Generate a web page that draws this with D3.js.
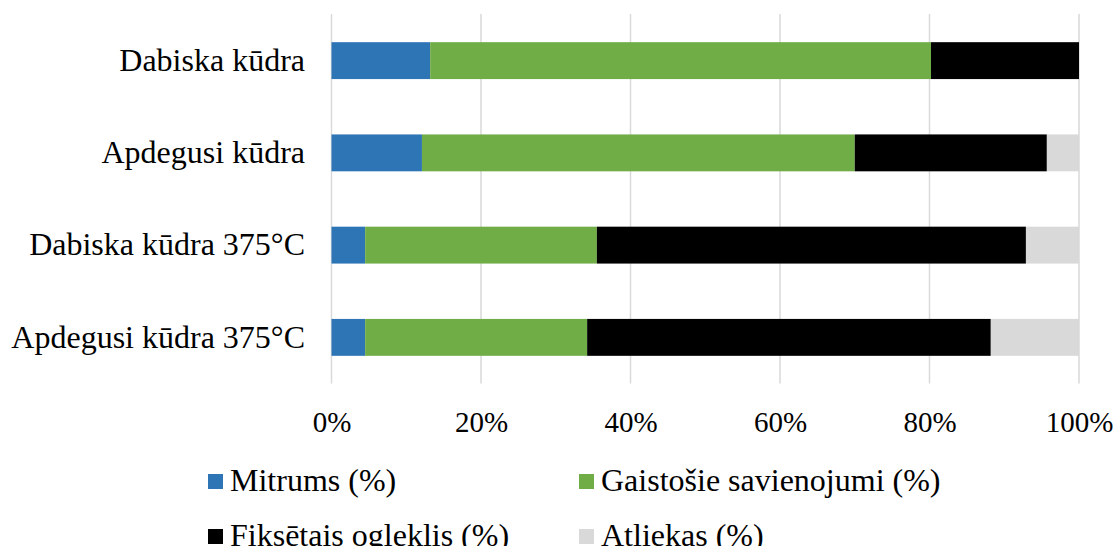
<!DOCTYPE html>
<html>
<head>
<meta charset="utf-8">
<script src="https://cdn.jsdelivr.net/npm/d3@7"></script>
<style>
  html, body { margin: 0; padding: 0; background: #fff; }
  svg { display: block; }
  text { font-family: "Liberation Serif", "Times New Roman", serif; fill: #000; }
</style>
</head>
<body>
<svg id="chart" width="1114" height="546"></svg>
<script>
const categories = ["Dabiska kūdra", "Apdegusi kūdra", "Dabiska kūdra 375°C", "Apdegusi kūdra 375°C"];
const seriesNames = ["Mitrums (%)", "Gaistošie savienojumi (%)", "Fiksētais ogleklis (%)", "Atliekas (%)"];
const mitrums = [13.2, 12.1, 4.5, 4.5];
const gaistosie = [67.0, 57.9, 31.0, 29.7];
const fiksetais = [19.8, 25.7, 57.4, 54.0];
const atliekas = [0.0, 4.3, 7.1, 11.8];
const tickValues = [0, 0.2, 0.4, 0.6, 0.8, 1.0];
const colors = ["#2E75B6", "#70AD47", "#000000", "#D9D9D9"];

const seriesValues = [mitrums, gaistosie, fiksetais, atliekas];
const rows = categories.map((c, i) => {
  const o = { cat: c };
  seriesNames.forEach((s, j) => o[s] = seriesValues[j][i]);
  return o;
});
const stacked = d3.stack().keys(seriesNames).offset(d3.stackOffsetExpand)(rows);

const svg = d3.select("#chart");
const x = d3.scaleLinear().domain([0, 1]).range([331.5, 1079]);
const y = d3.scaleBand().domain(categories).range([14.5, 383.5]).paddingInner(0.6).paddingOuter(0.3);

// gridlines
svg.append("g").selectAll("line").data(tickValues).join("line")
  .attr("x1", d => x(d)).attr("x2", d => x(d))
  .attr("y1", 14).attr("y2", 383.5)
  .attr("stroke", "#D9D9D9").attr("stroke-width", 1.5);

// bars
svg.append("g").selectAll("g").data(stacked).join("g")
  .attr("fill", (d, i) => colors[i])
  .selectAll("rect").data(d => d).join("rect")
  .attr("x", d => x(d[0]))
  .attr("width", d => Math.max(0, x(d[1]) - x(d[0])))
  .attr("y", d => y(d.data.cat))
  .attr("height", y.bandwidth());

// x axis ticks
const xAxis = d3.axisBottom(x).tickValues(tickValues).tickFormat(d3.format(".0%")).tickSize(0).tickPadding(0);
const gx = svg.append("g").attr("transform", "translate(0,402)").call(xAxis);
gx.select(".domain").remove();
gx.selectAll("text").attr("font-size", 29).attr("font-family", "Liberation Serif").attr("fill", "#000").attr("dy", "1.05em");

// y axis labels
const yAxis = d3.axisLeft(y).tickSize(0).tickPadding(0);
const gy = svg.append("g").attr("transform", "translate(305,0)").call(yAxis);
gy.select(".domain").remove();
gy.selectAll("text").attr("font-size", 32).attr("font-family", "Liberation Serif").attr("fill", "#000").attr("dy", "0.32em");

// legend
const legendPos = [[208, 474], [579, 474], [208, 529], [579, 529]];
const lg = svg.append("g").selectAll("g").data(seriesNames).join("g")
  .attr("transform", (d, i) => `translate(${legendPos[i][0]},${legendPos[i][1]})`);
lg.append("rect").attr("width", 15).attr("height", 15).attr("fill", (d, i) => colors[i]);
lg.append("text").attr("x", 22).attr("y", 16.5).attr("font-size", 32).text(d => d);
</script>
</body>
</html>
